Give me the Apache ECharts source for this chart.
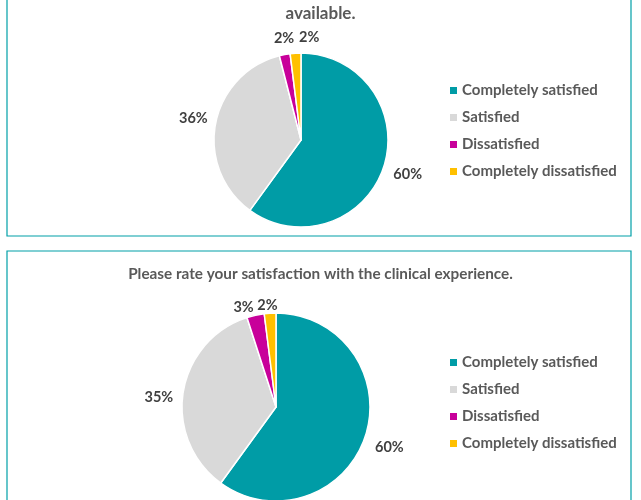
<!DOCTYPE html>
<html>
<head>
<meta charset="utf-8">
<script src="https://cdn.jsdelivr.net/npm/echarts@6/dist/echarts.min.js"></script>
<style>
html,body{margin:0;padding:0;background:#fff;}
#chart{width:641px;height:500px;}
</style>
</head>
<body>
<div id="chart"></div>
<script>
var categories = ['Completely satisfied', 'Satisfied', 'Dissatisfied', 'Completely dissatisfied'];
var colors = ['#009CA6', '#D9D9D9', '#C8009A', '#FFC000'];
var titleTop = 'available.';
var titleBottom = 'Please rate your satisfaction with the clinical experience.';
var valuesTop = [60, 36, 2, 2];
var valuesBottom = [60, 35, 3, 2];

var FONT = 'Lato';
var TEXT_COLOR = '#595959';
var LABEL_COLOR = '#404040';
var BORDER = '#00A0A8';

function makeData(vals) {
  return categories.map(function (c, i) { return { name: c, value: vals[i] }; });
}

function pieSeries(vals, center, radius, adjust) {
  return {
    type: 'pie',
    center: center,
    radius: radius,
    startAngle: 90,
    clockwise: true,
    avoidLabelOverlap: false,
    data: makeData(vals),
    itemStyle: { borderColor: '#fff', borderWidth: 1.5 },
    label: {
      show: true,
      position: 'outside',
      formatter: function (p) { return Math.round(p.value) + '%'; },
      fontFamily: FONT,
      fontWeight: 'bold',
      fontSize: 14.5,
      color: LABEL_COLOR,
      distanceToLabelLine: 0
    },
    labelLine: { show: false, length: 8, length2: 0 },
    labelLayout: adjust,
    emphasis: { disabled: true }
  };
}

var legendText = { fontFamily: FONT, fontWeight: 'bold', fontSize: 15, lineHeight: 14, color: TEXT_COLOR };

var chart = echarts.init(document.getElementById('chart'), null, { renderer: 'canvas' });
chart.setOption({
  animation: false,
  color: colors,
  title: [
    { text: titleTop, left: 'center', top: 0, textStyle: { fontFamily: FONT, fontWeight: 'bold', fontSize: 17, color: TEXT_COLOR } },
    { text: titleBottom, left: 'center', top: 262, textStyle: { fontFamily: FONT, fontWeight: 'bold', fontSize: 15.3, color: TEXT_COLOR } }
  ],
  legend: [
    {
      seriesIndex: 0, orient: 'vertical', left: 450, top: 83, padding: 0,
      icon: 'rect', itemWidth: 7, itemHeight: 7, itemGap: 12, itemStyle: { borderWidth: 0 },
      textStyle: legendText, data: categories, selectedMode: false
    },
    {
      seriesIndex: 1, orient: 'vertical', left: 450, top: 355, padding: 0,
      icon: 'rect', itemWidth: 7, itemHeight: 7, itemGap: 12, itemStyle: { borderWidth: 0 },
      textStyle: legendText, data: categories, selectedMode: false
    }
  ],
  graphic: [
    { type: 'rect', shape: { x: 7, y: -10, width: 624, height: 246 }, style: { fill: 'none', stroke: BORDER, lineWidth: 1.2 }, z: -1 },
    { type: 'rect', shape: { x: 7, y: 251, width: 624, height: 270 }, style: { fill: 'none', stroke: BORDER, lineWidth: 1.2 }, z: -1 }
  ],
  series: [
    pieSeries(valuesTop, [301, 140], 87, function (p) {
      if (p.dataIndex === 0) return { dx: 2, dy: 5 };
      if (p.dataIndex === 1) return { dy: -4 };
      if (p.dataIndex === 2) return { dx: 11, dy: -8 };
      if (p.dataIndex === 3) return { align: 'left', dx: 4, dy: -8 };
    }),
    pieSeries(valuesBottom, [276, 407], 94, function (p) {
      if (p.dataIndex === 0) return { dx: 2, dy: 9 };
      if (p.dataIndex === 1) return { dx: -2, dy: 6 };
      if (p.dataIndex === 3) return { dx: 8 };
    })
  ]
});
</script>
</body>
</html>
